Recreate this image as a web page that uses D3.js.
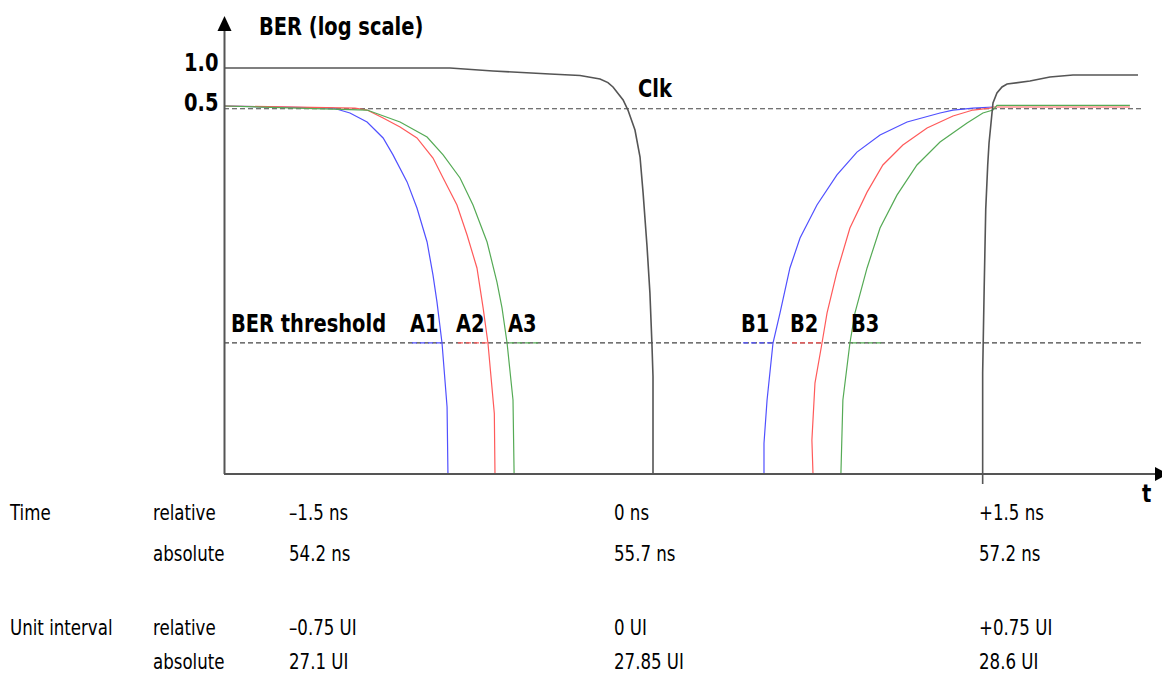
<!DOCTYPE html>
<html>
<head>
<meta charset="utf-8">
<script src="https://cdn.jsdelivr.net/npm/d3@7"></script>
<style>
body { margin: 0; background: #fff; }
text { font-family: "DejaVu Sans Condensed", "DejaVu Sans", sans-serif; font-stretch: condensed; fill: #000; }
.bold { font-weight: bold; }
</style>
</head>
<body>
<div id="chart"></div>
<script>
// BER levels
const yTickValues = [1.0, 0.5];
const yTickLabels = ['1.0', '0.5'];
const thresholdBER = 0.0093;

// time in ns relative to the clock edge, BER
const a1 = [[-1.952, 0.524], [-1.456, 0.506], [-1.379, 0.465], [-1.301, 0.399], [-1.228, 0.304], [-1.183, 0.228],
  [-1.119, 0.144], [-1.074, 0.0923], [-1.028, 0.0518], [-1.001, 0.0295], [-0.983, 0.0187], [-0.960, 0.00929],
  [-0.937, 0.00313], [-0.933, 0.001]];
const a2 = [[-1.952, 0.524], [-1.356, 0.506], [-1.301, 0.489], [-1.228, 0.427], [-1.151, 0.367], [-1.074, 0.304],
  [-1.001, 0.216], [-0.955, 0.154], [-0.892, 0.0972], [-0.846, 0.0583], [-0.801, 0.0333], [-0.773, 0.0169],
  [-0.751, 0.00929], [-0.722, 0.0028], [-0.719, 0.001]];
const a3 = [[-1.952, 0.524], [-1.301, 0.489], [-1.151, 0.399], [-1.028, 0.309], [-0.955, 0.228], [-0.878, 0.154],
  [-0.819, 0.0972], [-0.755, 0.0518], [-0.710, 0.0262], [-0.687, 0.0169], [-0.664, 0.00929], [-0.637, 0.00352],
  [-0.632, 0.001]];
const b1 = [[0.505, 0.001], [0.505, 0.00169], [0.519, 0.00352], [0.546, 0.00929], [0.578, 0.0155], [0.623, 0.0333],
  [0.669, 0.0554], [0.746, 0.0972], [0.837, 0.162], [0.928, 0.239], [1.033, 0.320], [1.156, 0.399], [1.306, 0.465],
  [1.365, 0.489], [1.456, 0.506], [1.547, 0.515]];
const b2 = [[0.728, 0.001], [0.723, 0.00178], [0.737, 0.0047], [0.769, 0.00929], [0.792, 0.0155], [0.837, 0.0311],
  [0.896, 0.0657], [0.974, 0.121], [1.046, 0.192], [1.137, 0.270], [1.247, 0.360], [1.365, 0.442], [1.456, 0.489],
  [1.533, 0.506], [1.547, 0.515], [2.170, 0.515]];
const b3 = [[0.855, 0.001], [0.864, 0.00352], [0.896, 0.00929], [0.919, 0.0155], [0.974, 0.0333], [1.033, 0.0657],
  [1.110, 0.115], [1.201, 0.192], [1.306, 0.284], [1.429, 0.392], [1.501, 0.465], [1.547, 0.489], [1.565, 0.53],
  [2.170, 0.53]];
const clkFall = [[-1.952, 1.0], [-0.924, 1.0], [-0.728, 0.950], [-0.469, 0.903], [-0.332, 0.880], [-0.241, 0.830],
  [-0.205, 0.780], [-0.182, 0.724], [-0.136, 0.580], [-0.114, 0.489], [-0.082, 0.348], [-0.059, 0.220],
  [-0.045, 0.119], [-0.027, 0.0476], [-0.014, 0.0217], [-0.005, 0.00929], [0, 0.00525], [0, 0.001]];
const clkRise = [[1.5, 0.001], [1.5, 0.00557], [1.507, 0.0241], [1.514, 0.0906], [1.523, 0.192], [1.529, 0.279],
  [1.538, 0.392], [1.547, 0.551], [1.565, 0.654], [1.588, 0.724], [1.611, 0.762], [1.715, 0.801], [1.806, 0.858],
  [1.911, 0.888], [2.207, 0.888]];

const curveNames = ['A1', 'A2', 'A3', 'B1', 'B2', 'B3'];
const curveData = [a1, a2, a3, b1, b2, b3];
const labelSide = ['left', 'left', 'right', 'left', 'left', 'right'];
const xTickValues = [1.5];

const tableRows = [
  ['Time', 'relative', '\u20131.5 ns', '0 ns', '+1.5 ns'],
  ['', 'absolute', '54.2 ns', '55.7 ns', '57.2 ns'],
  ['Unit interval', 'relative', '\u20130.75 UI', '0 UI', '+0.75 UI'],
  ['', 'absolute', '27.1 UI', '27.85 UI', '28.6 UI']
];

const w = 1162;
const h = 673;
const colors = ['#5050ff', '#ff5a5a', '#55aa55', '#5050ff', '#ff5a5a', '#55aa55'];
const axisColor = '#555';
const tableCols = [10, 153, 289, 614, 979];
const tableBase = [520, 561, 635, 669];

const xScale = d3.scaleLinear().domain([-1.952, 2.316]).range([224, 1162]);
const yScale = d3.scaleLog().domain([0.001, 1]).range([474, 68]).clamp(true);

const svg = d3.select('#chart').append('svg').attr('width', w).attr('height', h);

const line = d3.line().x(d => xScale(d[0])).y(d => yScale(d[1]));

// squeeze text horizontally to imitate the narrow face of the original
function narrow(sel, k) {
  sel.each(function () {
    const len = this.getComputedTextLength();
    if (len > 0) d3.select(this).attr('textLength', len * k).attr('lengthAdjust', 'spacingAndGlyphs');
  });
}

// dashed reference lines
[0.5, thresholdBER].forEach(v => {
  svg.append('line')
    .attr('x1', 224).attr('x2', 1142)
    .attr('y1', yScale(v)).attr('y2', yScale(v))
    .attr('stroke', '#444').attr('stroke-width', 1.2)
    .attr('stroke-dasharray', '5,3');
});

// where each curve crosses the threshold
function crossing(data) {
  const t = Math.log10(thresholdBER);
  for (let i = 1; i < data.length; i++) {
    const l0 = Math.log10(data[i - 1][1]);
    const l1 = Math.log10(data[i][1]);
    if ((l0 - t) * (l1 - t) <= 0 && l0 !== l1) {
      return data[i - 1][0] + (t - l0) / (l1 - l0) * (data[i][0] - data[i - 1][0]);
    }
  }
  return data[0][0];
}

// coloured pieces of the threshold line
curveData.forEach((data, i) => {
  const cx = xScale(crossing(data));
  const x1 = labelSide[i] === 'left' ? cx - 30 : cx + 2;
  svg.append('line')
    .attr('x1', x1).attr('x2', x1 + 30)
    .attr('y1', yScale(thresholdBER)).attr('y2', yScale(thresholdBER))
    .attr('stroke', colors[i]).attr('stroke-width', 1.2)
    .attr('stroke-dasharray', '5,3');
});

// curves
svg.selectAll('path.ber')
  .data(curveData)
  .enter()
  .append('path')
  .attr('class', 'ber')
  .attr('d', d => line(d))
  .attr('fill', 'none')
  .attr('stroke', (d, i) => colors[i])
  .attr('stroke-width', 1.2);

[clkFall, clkRise].forEach(d => {
  svg.append('path').attr('d', line(d))
    .attr('fill', 'none').attr('stroke', axisColor).attr('stroke-width', 1.6);
});

// axes
svg.append('line').attr('x1', 224).attr('x2', 1158).attr('y1', 474).attr('y2', 474)
  .attr('stroke', axisColor).attr('stroke-width', 2);
svg.append('path').attr('d', 'M1155,467 L1168,474 L1155,481 Z').attr('fill', '#000');
svg.append('line').attr('x1', 224.5).attr('x2', 224.5).attr('y1', 474).attr('y2', 28)
  .attr('stroke', axisColor).attr('stroke-width', 2);
svg.append('path').attr('d', 'M217.5,31 L224.5,16 L231.5,31 Z').attr('fill', '#000');

xTickValues.forEach(v => {
  svg.append('line').attr('x1', xScale(v)).attr('x2', xScale(v)).attr('y1', 474).attr('y2', 484)
    .attr('stroke', axisColor).attr('stroke-width', 1.6);
});

// labels
const bold = svg.append('g');
bold.append('text').attr('class', 'bold').attr('x', 259).attr('y', 35).text('BER (log scale)');
bold.selectAll('text.ytick')
  .data(yTickValues)
  .enter()
  .append('text')
  .attr('class', 'ytick bold')
  .attr('x', 184)
  .attr('y', d => yScale(d) + 2.5)
  .text((d, i) => yTickLabels[i]);
bold.append('text').attr('class', 'bold').attr('x', xScale(0) - 15).attr('y', 97).text('Clk');
bold.append('text').attr('class', 'bold').attr('x', 1142).attr('y', 502).text('t');
bold.append('text').attr('class', 'bold').attr('x', 231).attr('y', yScale(thresholdBER) - 11).text('BER threshold');

curveData.forEach((data, i) => {
  const cx = xScale(crossing(data));
  bold.append('text').attr('class', 'bold')
    .attr('x', labelSide[i] === 'left' ? cx - 32 : cx + 1)
    .attr('y', yScale(thresholdBER) - 11)
    .text(curveNames[i]);
});
bold.selectAll('text').style('font-size', '24px').call(narrow, 0.9);

// time / unit interval table
const table = svg.append('g');
tableRows.forEach((row, r) => {
  row.forEach((cell, c) => {
    table.append('text').attr('x', tableCols[c]).attr('y', tableBase[r]).text(cell);
  });
});
table.selectAll('text').style('font-size', '21px').call(narrow, 0.88);
</script>
</body>
</html>
